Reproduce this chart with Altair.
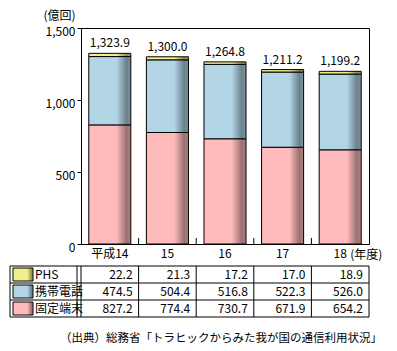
import altair as alt
import pandas as pd

years = ["平成14", "15", "16", "17", "18"]
phs = [22.2, 21.3, 17.2, 17.0, 18.9]
mobile = [474.5, 504.4, 516.8, 522.3, 526.0]
fixed = [827.2, 774.4, 730.7, 671.9, 654.2]
totals = [1323.9, 1300.0, 1264.8, 1211.2, 1199.2]
series = ["PHS", "携帯電話", "固定端末"]
colors = ["#F0F08A", "#B2D6E6", "#FFBBBB"]
darks = ["#9A9A55", "#6A8A99", "#A07878"]
y_ticks = [0, 500, 1000, 1500]
y_title = "(億回)"
x_unit = "(年度)"
source = "（出典）総務省「トラヒックからみた我が国の通信利用状況」"

W, H = 288, 216
step = W / len(years)
FONT = "Noto Sans CJK JP"

rows = []
for s, vals, o in [("固定端末", fixed, 0), ("携帯電話", mobile, 1), ("PHS", phs, 2)]:
    for yr, v in zip(years, vals):
        rows.append({"year": yr, "series": s, "value": v, "ord": o})
df = pd.DataFrame(rows)
tot = pd.DataFrame({"year": years, "total": totals})

xs = alt.Scale(domain=years, paddingInner=0.27, paddingOuter=0.135)
ys = alt.Scale(domain=[0, 1500], nice=False)
xaxis = alt.Axis(title=None, ticks=False, labelPadding=4, labelAngle=0, domain=False,
                 labelFontSize=12, labelColor="black")
yaxis = alt.Axis(values=y_ticks, labelExpr="format(datum.value, ',')", tickSize=4,
                 labelPadding=2, grid=False,
                 title=y_title, titleAngle=0, titleAlign="left", titleBaseline="middle",
                 titleX=-38, titleY=-13, titleFontWeight="normal", titleFontSize=12,
                 labelFontSize=12, domainColor="black", tickColor="black",
                 labelColor="black", labelOffset=3, titleColor="black")


def xenc():
    return alt.X("year:N", scale=xs, sort=years, axis=xaxis)


def yenc(f):
    return alt.Y(f, scale=ys, axis=yaxis)


def grad(stops):
    return alt.LinearGradient(gradient="linear", x1=0, x2=1, y1=0, y2=0,
                              stops=[alt.GradientStop(offset=o, color=c) for o, c in stops])


shade = grad([(0, "rgba(0,0,0,0)"), (0.66, "rgba(0,0,0,0)"),
              (0.9, "rgba(0,0,0,0.4)"), (1, "rgba(0,0,0,0.3)")])

one = pd.DataFrame({"k": [0]})
layers = []

bars = alt.Chart(df).mark_bar(stroke="black", strokeWidth=1).encode(
    x=xenc(),
    y=alt.Y("value:Q", stack="zero", scale=ys, axis=yaxis),
    color=alt.Color("series:N", scale=alt.Scale(domain=series, range=colors), legend=None),
    order=alt.Order("ord:Q", sort="ascending"),
)
layers.append(bars)

overlay = alt.Chart(tot).mark_bar(fill=shade, strokeWidth=0).encode(
    x=xenc(), y=yenc("total:Q"))
layers.append(overlay)

labels = alt.Chart(tot).mark_text(baseline="bottom", dy=-3, fontSize=12).encode(
    x=xenc(), y=yenc("total:Q"), text=alt.Text("total:Q", format=",.1f"))
layers.append(labels)

ticks = alt.Chart(pd.DataFrame({"year": years[1:]})).mark_rule(
    xOffset=-step / 2, color="black").encode(
    x=xenc(), y=alt.value(H), y2=alt.value(H - 6))
layers.append(ticks)

unit = alt.Chart(pd.DataFrame({"year": [years[-1]], "t": [x_unit]})).mark_text(
    align="left", baseline="middle", dx=10, fontSize=12).encode(
    x=xenc(), y=alt.value(H + 11), text="t:N")
layers.append(unit)

# data table
t_top = 238
rh = 17
t_left = -71
for i in range(4):
    layers.append(alt.Chart(one).mark_rule(color="black").encode(
        x=alt.value(t_left), x2=alt.value(W), y=alt.value(t_top + i * rh)))
for xv in [t_left, -4, 0, W]:
    layers.append(alt.Chart(one).mark_rule(color="black").encode(
        x=alt.value(xv), y=alt.value(t_top), y2=alt.value(t_top + 3 * rh)))
layers.append(alt.Chart(pd.DataFrame({"year": years[1:]})).mark_rule(
    xOffset=-step / 2, color="black").encode(
    x=xenc(), y=alt.value(t_top), y2=alt.value(t_top + 3 * rh)))

for i, (s, c, d) in enumerate(zip(series, colors, darks)):
    yc = t_top + rh * i + rh / 2
    sw = grad([(0, c), (0.72, c), (0.9, d), (1, d)])
    layers.append(alt.Chart(one).mark_rect(fill=sw, stroke="black", strokeWidth=1).encode(
        x=alt.value(-68), x2=alt.value(-48),
        y=alt.value(t_top + rh * i + 2), y2=alt.value(t_top + rh * (i + 1) - 2)))
    layers.append(alt.Chart(pd.DataFrame({"s": [s]})).mark_text(
        align="left", baseline="middle", fontSize=12).encode(
        x=alt.value(-46), y=alt.value(yc), text="s:N"))
    layers.append(alt.Chart(df[df["series"] == s]).mark_text(
        align="right", baseline="middle", dx=step / 2 - 6, fontSize=12).encode(
        x=xenc(), y=alt.value(yc), text=alt.Text("value:Q", format=".1f")))

layers.append(alt.Chart(pd.DataFrame({"t": [source]})).mark_text(
    align="right", baseline="middle", fontSize=11.5).encode(
    x=alt.value(301), y=alt.value(311), text="t:N"))

chart = alt.layer(*layers).properties(
    width=W, height=H,
    padding={"left": 81, "top": 28, "right": 28, "bottom": 107},
    autosize=alt.AutoSizeParams(type="none"),
).configure(font=FONT).configure_view(stroke="black", strokeWidth=1).configure_axis(
    labelFont=FONT, titleFont=FONT).configure_text(font=FONT, color="black")

chart.save("out.html", embed_options={"renderer": "svg", "actions": False})
